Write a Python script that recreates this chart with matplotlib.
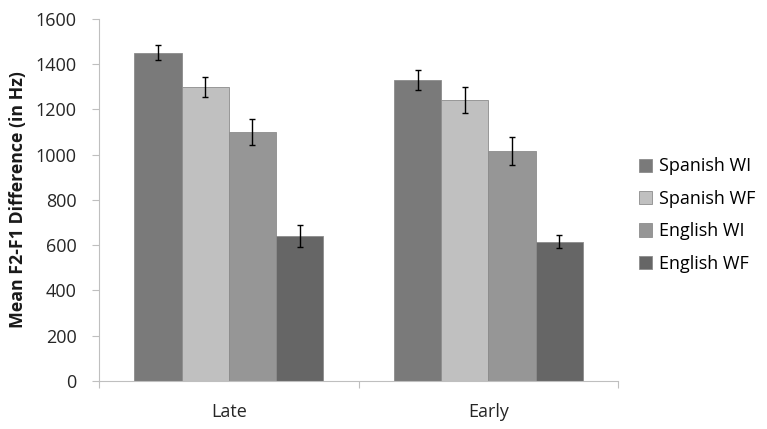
"""Mean F2-F1 difference by group, grouped bar chart with error bars."""

import matplotlib

matplotlib.use("Agg")

import matplotlib.pyplot as plt
import numpy as np

plt.rcParams["font.family"] = ["Open Sans", "DejaVu Sans"]

groups = ["Late", "Early"]
series_names = ["Spanish WI", "Spanish WF", "English WI", "English WF"]
means = [
    [1450, 1330],   # Spanish WI
    [1300, 1240],   # Spanish WF
    [1100, 1015],   # English WI
    [640, 615],     # English WF
]
errors = [
    [33, 44],
    [45, 57],
    [58, 61],
    [49, 29],
]
colors = ["#7a7a7a", "#c0c0c0", "#969696", "#666666"]


def main():
    fig = plt.figure(figsize=(7.67, 4.29), dpi=100)
    ax = fig.add_axes([0.129, 0.112, 0.677, 0.844])

    x = np.arange(len(groups))
    width = 0.182
    for i, name in enumerate(series_names):
        offset = (i - 1.5) * width
        ax.bar(
            x + offset, means[i], width,
            color=colors[i], edgecolor="#8c8c8c", linewidth=0.6,
            label=name, zorder=2,
        )
        ax.errorbar(
            x + offset, means[i], yerr=errors[i],
            fmt="none", ecolor="black", elinewidth=1.0,
            capsize=2.5, capthick=1.0, zorder=3,
        )

    ax.set_xlim(-0.5, 1.5)
    ax.set_ylim(0, 1600)
    ax.set_yticks(np.arange(0, 1601, 200))
    ax.set_xticks([-0.5, 0.5, 1.5])
    ax.set_xticklabels([])
    ax.set_xticks(x, minor=True)
    ax.set_xticklabels(groups, minor=True)
    ax.tick_params(axis="x", which="minor", length=0, pad=16,
                   labelsize=13, colors="#262626")
    ax.tick_params(axis="x", which="major", length=5, color="#bfbfbf")
    ax.tick_params(axis="y", length=5, color="#bfbfbf", pad=11,
                   labelsize=13, labelcolor="#262626")

    for side in ["top", "right"]:
        ax.spines[side].set_visible(False)
    for side in ["left", "bottom"]:
        ax.spines[side].set_color("#bfbfbf")

    ax.set_ylabel("Mean F2-F1 Difference (in Hz)", fontsize=12.8,
                  fontweight="bold", color="#1a1a1a", labelpad=6)

    ax.legend(
        loc="center left", bbox_to_anchor=(1.008, 0.458), frameon=False,
        fontsize=13, handlelength=0.75, handleheight=0.75,
        handletextpad=0.4, labelspacing=0.8,
    )

    fig.savefig("out.png", dpi=100)
    plt.close(fig)


if __name__ == "__main__":
    main()
